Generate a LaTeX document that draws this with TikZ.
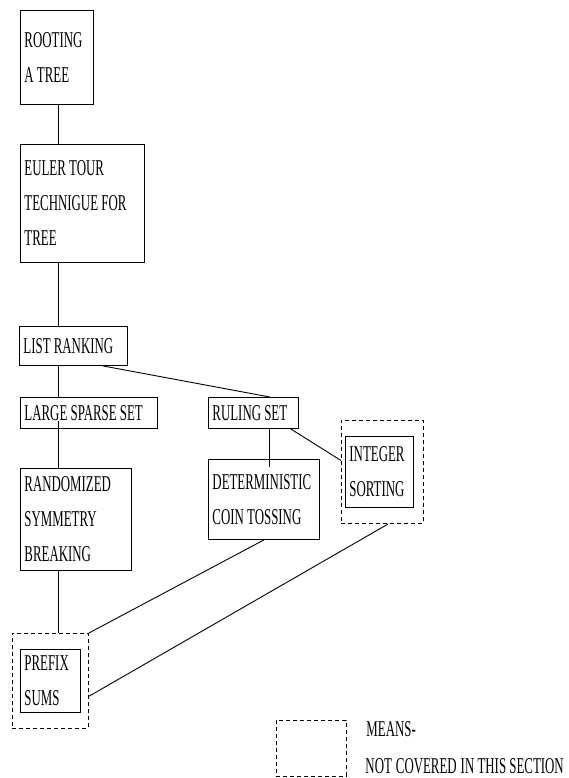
\documentclass[tikz,border=0pt]{standalone}
\usepackage{fontspec}
\setmainfont{Liberation Serif}[FakeStretch=0.57]
\usetikzlibrary{calc}
\tikzset{
  lbl/.style={font=\fontsize{22.6}{35}\selectfont},
  topic/.style={lbl,draw,anchor=north west,align=flush left,inner xsep=4pt,inner ysep=0pt},
  notcovered/.style={draw,dash pattern=on 4pt off 3pt,anchor=north west,inner sep=0pt},
  note/.style={lbl,anchor=base west,inner sep=0pt}
}
\begin{document}
\begin{tikzpicture}[x=1pt,y=-1pt,line width=0.9pt]
\useasboundingbox (0,0) rectangle (569,778);
\pgfmathsetmacro{\gap}{8}
\node[notcovered,minimum width=82pt,minimum height=103pt](intgbox) at (341,420) {};
\node[notcovered,minimum width=76pt,minimum height=95pt](prefixbox) at (12,633) {};
\node[notcovered,minimum width=70pt,minimum height=56pt](legend) at (276,720) {};
\node[topic,text width=65pt,minimum height=94pt](root) at (20,10) {ROOTING\\A TREE};
\node[topic,text width=116pt,minimum height=118pt](euler) at (20,144) {EULER TOUR\\TECHNIGUE FOR\\TREE};
\node[topic,text width=100pt,minimum height=39pt](lr) at (19,326) {LIST RANKING};
\node[topic,text width=129pt,minimum height=31pt](lss) at (20,397) {LARGE SPARSE SET};
\node[topic,text width=82pt,minimum height=31pt](rs) at (208,397) {RULING SET};
\node[topic,text width=103pt,minimum height=80pt](det) at (208,459) {DETERMINISTIC\\COIN TOSSING};
\node[topic,text width=103pt,minimum height=102pt](rsb) at (20,468) {RANDOMIZED\\SYMMETRY\\BREAKING};
\node[topic,text width=60pt,minimum height=71pt](intg) at (345,436) {INTEGER\\SORTING};
\node[topic,text width=52pt,minimum height=63pt](prefix) at (20,649) {PREFIX\\SUMS};
\node[note](means) at (366,736.5) {MEANS-};
\node[note](ncov) at (365,773.5) {NOT\hskip4pt COVERED\hskip4pt IN THIS SECTION};
\coordinate(spine) at (58,0);
\draw(spine|-root.south)--(spine|-euler.north);
\draw(spine|-euler.south)--(spine|-lr.north);
\draw(spine|-lr.south)--(spine|-lss.north);
\draw([yshift=\gap pt]spine|-lss.south)--(spine|-rsb.north);
\draw(spine|-rsb.south)--(spine|-prefixbox.north);
\draw($(lr.south west)!0.77!(lr.south east)$)--($(rs.north west)!0.68!(rs.north east)$)coordinate(rsr);
\draw(rsr|-rs.south)--([yshift=-\gap pt]rsr|-det.north);
\draw($(rs.south west)!0.91!(rs.south east)$)--($(intgbox.north west)!0.39!(intgbox.south west)$);
\draw(det.south)--(prefixbox.north east);
\draw($(intgbox.south west)!0.57!(intgbox.south east)$)--($(prefixbox.north east)!0.66!(prefixbox.south east)$);
\end{tikzpicture}
\end{document}
